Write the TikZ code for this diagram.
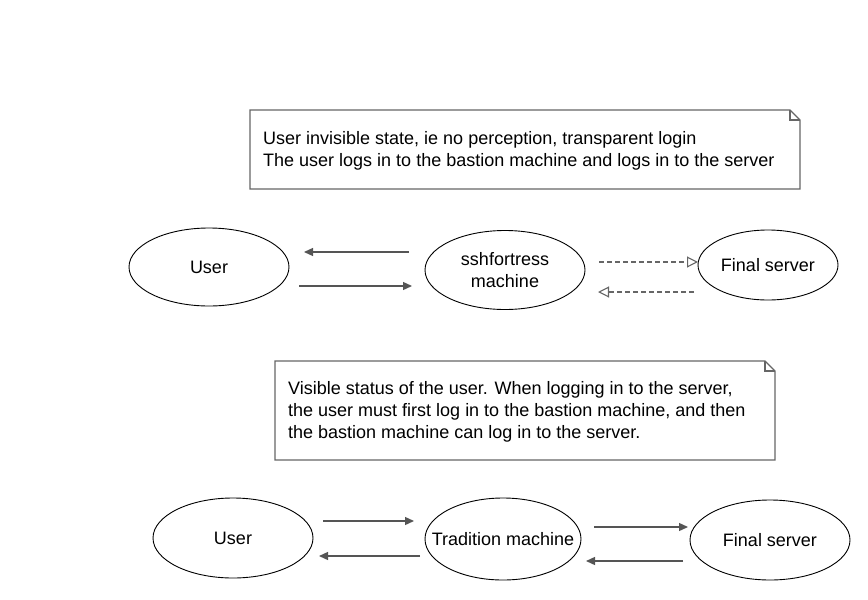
\documentclass[tikz,border=0pt]{standalone}
\usepackage{fontspec}
\setmainfont{Liberation Sans}
\usetikzlibrary{arrows.meta,shapes.geometric}
\definecolor{linegray}{HTML}{555555}
\definecolor{notegray}{HTML}{666666}
\tikzset{
  ell/.style={draw=black, line width=0.9pt, ellipse, inner sep=0pt},
  elltext/.style={align=center, inner sep=0pt, font=\fontsize{18}{22}\selectfont},
  conn/.style={draw=linegray, line width=1.3pt, -{Triangle[length=9pt,width=8pt]}},
  dconn/.style={draw=notegray, line width=1.1pt, dashed, dash pattern=on 5pt off 3pt, -{Triangle[open,length=11pt,width=11pt]}},
  notebox/.style={draw=notegray, line width=1.1pt},
  notetext/.style={anchor=north west, inner sep=0pt, align=left, font=\fontsize{18}{22}\selectfont}
}
\begin{document}
\begin{tikzpicture}[x=1pt,y=-1pt]
\useasboundingbox (0,0) rectangle (868,600);
% note 1
\draw[notebox] (250,110) -- (790,110) -- (800,120) -- (800,189) -- (250,189) -- cycle;
\draw[notebox] (790,110) -- (790,120) -- (800,120);
\node[notetext] (n1) at (263,131) {User invisible state, ie no perception, transparent login\\The user logs in to the bastion machine and logs in to the server};
% top row
\node[ell, minimum width=160pt, minimum height=78pt] (u1) at (209,267) {};
\node[elltext] (u1t) at (u1) {User};
\node[ell, minimum width=160pt, minimum height=79pt] (s1) at (505,270) {};
\node[elltext] (s1t) at (s1) {sshfortress\\machine};
\node[ell, minimum width=140pt, minimum height=70pt] (f1) at (768,265) {};
\node[elltext] (f1t) at (f1) {Final server};
\coordinate (a1s) at (409,252); \coordinate (a1e) at (304,252);
\coordinate (a2s) at (299,286); \coordinate (a2e) at (412,286);
\coordinate (a3s) at (599,262); \coordinate (a3e) at (698,262);
\coordinate (a4s) at (694,292); \coordinate (a4e) at (598,292);
\draw[conn] (a1s) -- (a1e);
\draw[conn] (a2s) -- (a2e);
\draw[dconn] (a3s) -- (a3e);
\draw[dconn] (a4s) -- (a4e);
% note 2
\draw[notebox] (275,361) -- (765,361) -- (775,371) -- (775,460) -- (275,460) -- cycle;
\draw[notebox] (765,361) -- (765,371) -- (775,371);
\node[notetext] (n2) at (288,381) {Visible status of the user. When logging in to the server,\\the user must first log in to the bastion machine, and then\\the bastion machine can log in to the server.};
% bottom row
\node[ell, minimum width=160pt, minimum height=80pt] (u2) at (233,538) {};
\node[elltext] (u2t) at (u2) {User};
\node[ell, minimum width=156pt, minimum height=82pt] (t2) at (503,539) {};
\node[elltext] (t2t) at (t2) {Tradition machine};
\node[ell, minimum width=160pt, minimum height=80pt] (f2) at (770,540) {};
\node[elltext] (f2t) at (f2) {Final server};
\coordinate (b1s) at (323,521); \coordinate (b1e) at (414,521);
\coordinate (b2s) at (420,556); \coordinate (b2e) at (319,556);
\coordinate (b3s) at (594,527); \coordinate (b3e) at (688,527);
\coordinate (b4s) at (683,561); \coordinate (b4e) at (586,561);
\draw[conn] (b1s) -- (b1e);
\draw[conn] (b2s) -- (b2e);
\draw[conn] (b3s) -- (b3e);
\draw[conn] (b4s) -- (b4e);
\end{tikzpicture}
\end{document}
